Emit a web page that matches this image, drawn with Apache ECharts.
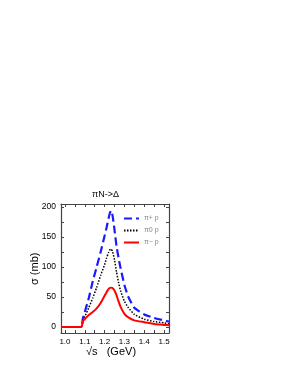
<!DOCTYPE html>
<html><head><meta charset="utf-8">
<script src="https://cdn.jsdelivr.net/npm/echarts@6/dist/echarts.min.js"></script>
<style>html,body{margin:0;padding:0;background:#fff}#c{width:291px;height:376px}</style>
</head><body><div id="c"></div>
<script>
var sqrtS = [0.98, 1.083, 1.09, 1.10, 1.12, 1.14, 1.16, 1.18, 1.20, 1.21, 1.22, 1.225, 1.232, 1.24, 1.25, 1.26, 1.27, 1.28, 1.30, 1.32, 1.35, 1.40, 1.45, 1.50, 1.525];
var piPlusP = [0, 0, 14, 25, 48, 76, 100, 125, 152, 166, 181, 188, 194, 186, 162, 135, 116, 99, 70, 50, 32, 21, 15, 11, 9];
var piZeroP = [0, 0, 10, 17, 32, 48, 66, 86, 104, 115, 124, 128, 130, 126, 112, 92, 75, 61, 43, 32, 21, 13, 9, 7, 5.5];
var piMinusP = [0, 0, 10, 13, 20, 25, 31, 40, 52, 58, 63, 65, 65.5, 65, 61, 53, 43, 34, 22, 16, 11, 8, 5, 3.5, 3];
var xLabels = [1.0, 1.1, 1.2, 1.3, 1.4, 1.5];
var xTicks = [1.0, 1.05, 1.1, 1.15, 1.2, 1.25, 1.3, 1.35, 1.4, 1.45, 1.5];
var yLabels = [0, 50, 100, 150, 200];
var yTicks = [0, 25, 50, 75, 100, 125, 150, 175, 200];
var seriesNames = ['\u03c0+ p', '\u03c00 p', '\u03c0\u2212 p'];

function pairs(ys){ return sqrtS.map(function(x,i){ return [x, ys[i]]; }); }

var axisLineStyle = {color:'#444', width:1.2};
function xAxis(pos, showLabel){
  return {type:'value', position:pos, min:0.98, max:1.525,
    axisLine:{show:true, onZero:false, lineStyle:axisLineStyle},
    axisTick:{show:true, inside:true, length:3, customValues:xTicks, lineStyle:{color:'#444'}},
    axisLabel:{show:showLabel, customValues:xLabels, formatter:function(v){return v.toFixed(1);},
      color:'#000', fontSize:8, fontFamily:'Liberation Sans, Arial', margin:5},
    splitLine:{show:false}};
}
function yAxis(pos, showLabel){
  return {type:'value', position:pos, min:-10, max:205,
    axisLine:{show:true, onZero:false, lineStyle:axisLineStyle},
    axisTick:{show:true, inside:true, length:3, customValues:yTicks, lineStyle:{color:'#444'}},
    axisLabel:{show:showLabel, customValues:yLabels, color:'#000', fontSize:8.5,
      fontFamily:'Liberation Sans, Arial', margin:5},
    splitLine:{show:false}};
}

var chart = echarts.init(document.getElementById('c'), null, {renderer:'canvas'});
chart.setOption({
  animation:false,
  backgroundColor:'#fff',
  grid:{left:61, right:122, top:204, bottom:43},
  title:{text:'\u03c0N->\u0394', left:92, top:190, padding:0,
    textStyle:{fontSize:9, fontWeight:'normal', color:'#000', fontFamily:'Liberation Sans, Arial'}},
  legend:{orient:'vertical', left:123, top:215, itemWidth:15, itemHeight:8, itemGap:5, padding:0,
    itemStyle:{opacity:0},
    textStyle:{fontSize:7, color:'#888', fontFamily:'Liberation Sans, Arial'},
    data:seriesNames},
  xAxis:[xAxis('bottom', true), xAxis('top', false)],
  yAxis:[yAxis('left', true), yAxis('right', false)],
  graphic:[
    {type:'text', left:86, top:346, style:{text:'\u221as   (GeV)', fontSize:11, fill:'#000', fontFamily:'Liberation Sans, Arial'}},
    {type:'text', x:29, y:285, rotation:Math.PI/2, style:{text:'\u03c3 (mb)', fontSize:11, fill:'#000', fontFamily:'Liberation Sans, Arial'}}
  ],
  series:[
    {name:seriesNames[0], type:'line', data:pairs(piPlusP), symbol:'none', smooth:0.15,
      lineStyle:{color:'#1a1aff', width:2.2, type:[8,4]}, itemStyle:{color:'#1a1aff'}},
    {name:seriesNames[1], type:'line', data:pairs(piZeroP), symbol:'none', smooth:0.15,
      lineStyle:{color:'#000', width:1.5, type:[1.5,1.5]}, itemStyle:{color:'#000'}},
    {name:seriesNames[2], type:'line', data:pairs(piMinusP), symbol:'none', smooth:0.15,
      lineStyle:{color:'#ff0000', width:2}, itemStyle:{color:'#ff0000'}}
  ]
});
</script></body></html>
